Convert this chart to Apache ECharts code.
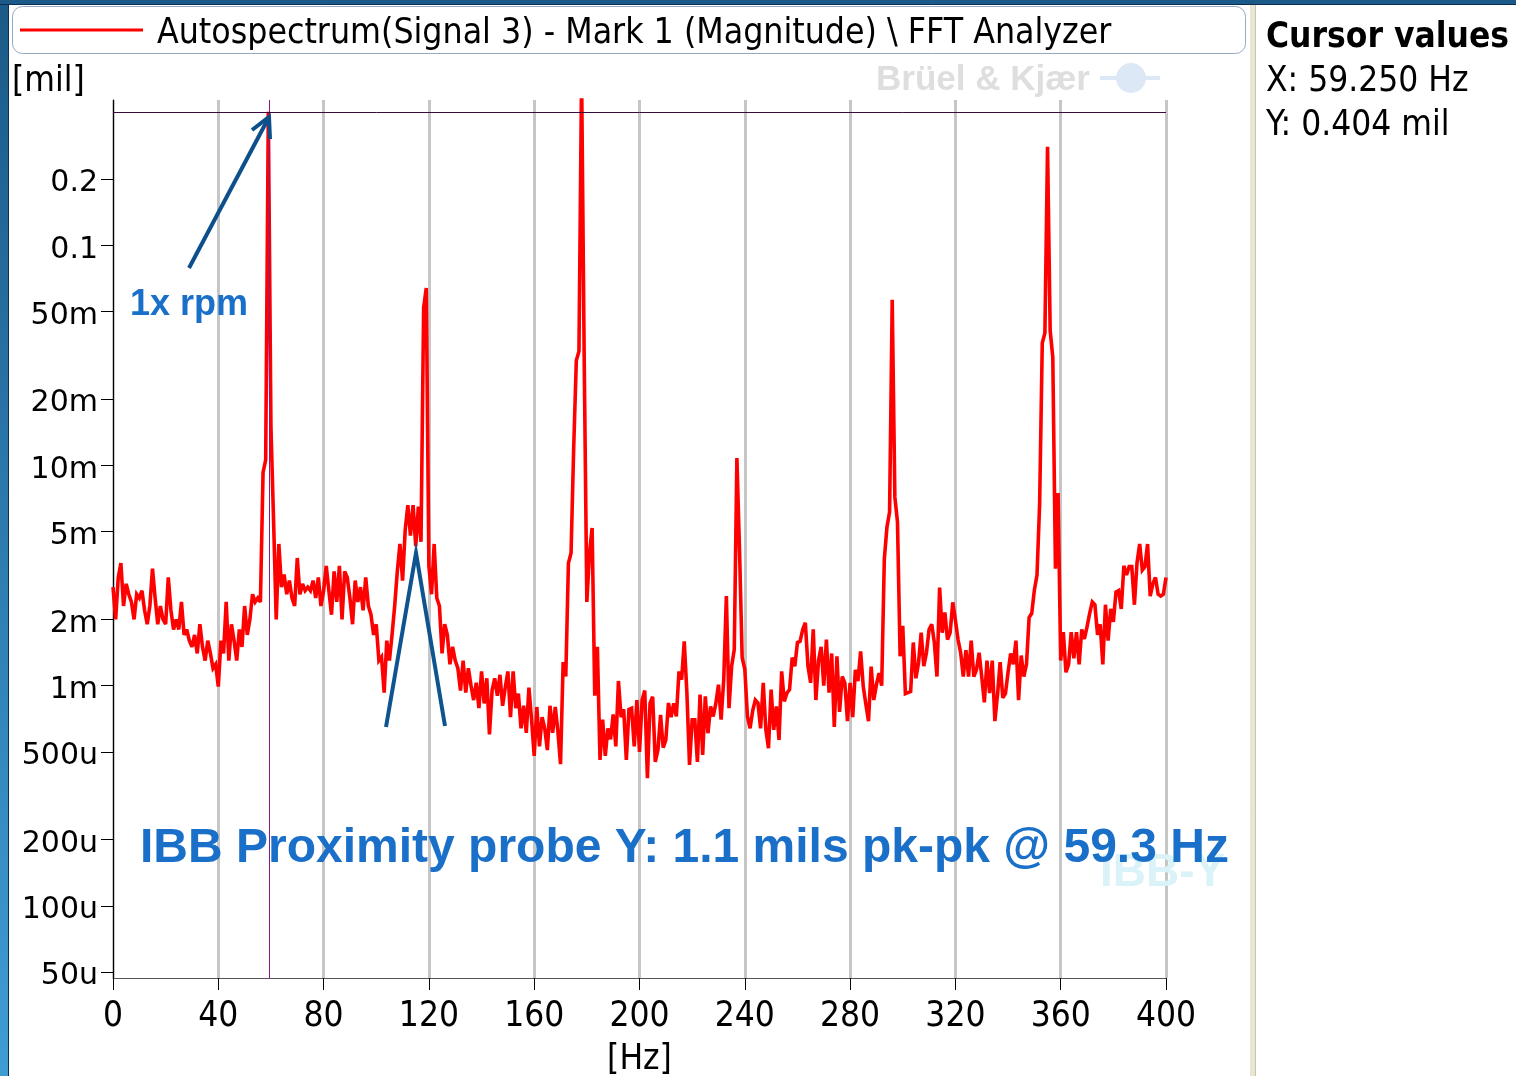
<!DOCTYPE html>
<html>
<head>
<meta charset="utf-8">
<script src="https://cdn.jsdelivr.net/npm/echarts@6.0.0/dist/echarts.min.js"></script>
<style>
html,body{margin:0;padding:0;background:#fff;}
#chart{width:1516px;height:1076px;}
</style>
</head>
<body>
<div id="chart"></div>
<script>
// Autospectrum magnitude, one value per 1 Hz line, in micro-mil (u)
const freqStepHz = 1;
const ampMicroMil = [
2800,2000,3100,3600,2300,2900,2600,2400,2000,2600,
2500,2700,2200,1900,2300,3400,2500,1900,2300,2000,
1900,3100,2200,1800,2000,1800,2400,1700,1800,1600,
1500,1700,1400,1900,1500,1300,1600,1400,1200,1250,
990,1600,1400,2400,1300,1900,1600,1300,1800,1500,
2300,1700,2000,2600,2400,2500,2400,9300,10600,404000,
15000,5600,2000,4400,2800,3200,2600,3000,2500,2300,
3800,2600,2900,2700,2800,2700,3000,2500,3100,2300,
2700,3500,2700,2100,3300,2400,3500,2000,3300,3100,
2500,1900,3000,2400,2800,2200,3100,2300,2100,1700,
1900,1300,1350,930,1600,1300,1700,2300,3300,4400,
3000,5100,6600,4800,6600,4300,6500,4500,52000,64000,
3500,2600,4400,2500,2300,1400,1900,1700,1250,1500,
1300,1200,950,1300,930,1200,1000,860,1030,790,
1160,830,1080,600,950,1080,900,1120,810,980,
1160,720,1160,790,920,640,810,610,980,700,
480,800,530,720,640,510,810,610,800,620,
440,1280,1100,3600,4000,12000,30000,33000,600000,30000,
2400,4000,5200,900,1500,460,700,480,640,570,
740,530,1050,720,780,460,780,790,530,860,
500,860,950,380,830,890,450,510,737,523,
567,834,720,830,724,1160,1065,1590,930,436,
700,700,450,910,484,894,608,804,724,830,
1010,700,1065,2550,790,1225,1460,10800,4100,1340,
1190,724,640,770,860,834,640,1030,630,520,
960,630,804,567,1160,848,926,960,1340,1225,
1570,1590,1800,1930,1225,1030,1800,860,1300,1500,
1000,1620,930,1400,650,1360,760,1100,1030,690,
1030,720,1180,1050,1430,990,820,690,1220,860,
1010,1140,1000,3760,5250,6150,56500,7200,5530,1360,
1870,920,930,940,1570,1080,1270,1740,1225,1410,
1800,1900,1570,1100,2790,1740,2150,1620,1740,2390,
1980,1620,1410,1100,1450,1100,1600,1100,1180,1410,
1100,840,1300,926,1300,690,910,1280,880,920,
1150,1400,1250,1600,860,1370,1100,1250,2040,2130,
2720,3180,6700,36000,40000,280000,41000,31000,3400,7500,
1300,1750,1150,1250,1750,1330,1750,1250,1800,1630,
1850,2130,2400,2330,1700,1900,1250,2330,1600,2230,
1950,2660,2700,2230,3500,3180,3470,3470,2330,3630,
4400,3350,3470,4400,2550,2900,3100,2600,2550,2600,
3100
];
const cursorX = 59.25;     // Hz
const cursorY = 0.404;     // mil
const xTickValues = [0,40,80,120,160,200,240,280,320,360,400];
const yTickValues = [0.2,0.1,0.05,0.02,0.01,0.005,0.002,0.001,0.0005,0.0002,0.0001,0.00005];
const yTickLabels = ['0.2','0.1','50m','20m','10m','5m','2m','1m','500u','200u','100u','50u'];

const seriesData = ampMicroMil.map((a, i) => [i * freqStepHz, a / 1e6]);

const tahoma = "Tahoma, 'DejaVu Sans Condensed', 'Liberation Sans Narrow', 'DejaVu Sans', sans-serif";
const verdana = "Verdana, 'DejaVu Sans', sans-serif";
const arial = "Arial, 'Liberation Sans', sans-serif";

const chart = echarts.init(document.getElementById('chart'), null, {renderer: 'canvas'});
chart.setOption({
  animation: false,
  backgroundColor: '#ffffff',
  grid: {left: 113, top: 100, width: 1053, height: 878, outerBoundsMode: 'none'},
  xAxis: {
    type: 'value', min: 0, max: 400, interval: 40,
    axisLine: {show: true, onZero: false, lineStyle: {color: '#555', width: 1}},
    axisTick: {show: true, length: 12, lineStyle: {color: '#000', width: 1}},
    axisLabel: {
      customValues: xTickValues,
      color: '#000', fontSize: 35, fontFamily: tahoma, margin: 21
    },
    splitLine: {show: true, lineStyle: {color: '#c6c6c6', width: 3}},
    name: '[Hz]', nameLocation: 'middle', nameGap: 64,
    nameTextStyle: {color: '#000', fontSize: 35, fontFamily: tahoma}
  },
  yAxis: {
    type: 'log', logBase: 10, min: 4.7e-5, max: 0.457,
    axisLine: {show: true, lineStyle: {color: '#000', width: 1}},
    axisTick: {show: true, customValues: yTickValues, length: 12, lineStyle: {color: '#000', width: 1}},
    axisLabel: {
      customValues: yTickValues,
      color: '#000', fontSize: 30, fontFamily: verdana, margin: 15,
      rich: {v: {fontSize: 30, fontFamily: verdana, color: '#000', padding: [9, 0, 0, 0]}},
      formatter: function (v) {
        let best = 0, bd = Infinity;
        yTickValues.forEach((t, i) => { const d = Math.abs(Math.log10(t) - Math.log10(v)); if (d < bd) { bd = d; best = i; } });
        return '{v|' + yTickLabels[best] + '}';
      }
    },
    splitLine: {show: false},
    minorTick: {show: false}
  },
  series: [{
    type: 'line',
    data: seriesData,
    showSymbol: false,
    symbol: 'none',
    clip: true,
    lineStyle: {color: '#ff0000', width: 3.6, join: 'miter', miterLimit: 3},
    z: 3,
    markLine: {
      silent: true, symbol: 'none', animation: false,
      label: {show: false},
      data: [
        {xAxis: cursorX, lineStyle: {color: '#8a1a8a', width: 1, type: 'solid'}},
        {yAxis: cursorY, lineStyle: {color: '#3a0a3a', width: 1, type: 'solid'}}
      ]
    }
  }],
  graphic: [
    // window frame
    {type: 'rect', shape: {x: 0, y: 0, width: 8, height: 1076}, style: {fill: new echarts.graphic.LinearGradient(0,0,0,1,[{offset:0,color:'#1b5a88'},{offset:1,color:'#3f9dd3'}])}, z: 50},
    {type: 'line', shape: {x1: 8.5, y1: 0, x2: 8.5, y2: 1076}, style: {stroke: '#0b2e52', lineWidth: 1}, z: 50},
    {type: 'rect', shape: {x: 0, y: 0, width: 1516, height: 4}, style: {fill: '#1b5a88'}, z: 50},
    {type: 'line', shape: {x1: 0, y1: 4.5, x2: 1516, y2: 4.5}, style: {stroke: '#0b2e52', lineWidth: 1}, z: 50},
    // right panel separator
    {type: 'rect', shape: {x: 1250, y: 5, width: 5, height: 1071}, style: {fill: '#e9e5d3'}, z: 50},
    {type: 'line', shape: {x1: 1255.5, y1: 5, x2: 1255.5, y2: 1076}, style: {stroke: '#c9c4ae', lineWidth: 1}, z: 50},
    // legend box
    {type: 'rect', shape: {x: 12.5, y: 6.5, width: 1233, height: 47, r: 10}, style: {fill: '#fff', stroke: '#93a9c4', lineWidth: 1}, z: 40},
    {type: 'line', shape: {x1: 20, y1: 30, x2: 143, y2: 30}, style: {stroke: '#ff0000', lineWidth: 3}, z: 41},
    {type: 'text', x: 157, y: 34, style: {text: 'Autospectrum(Signal 3) - Mark 1 (Magnitude) \\ FFT Analyzer', fill: '#000', font: '35.3px ' + tahoma, textVerticalAlign: 'middle'}, z: 41},
    // unit label
    {type: 'text', x: 12, y: 82, style: {text: '[mil]', fill: '#000', font: '35px ' + tahoma, textVerticalAlign: 'middle'}, z: 41},
    // watermark
    {type: 'text', x: 876, y: 80, style: {text: 'Brüel & Kjær', fill: '#dedede', font: 'bold 35px ' + arial, textVerticalAlign: 'middle'}, z: 1},
    {type: 'circle', shape: {cx: 1131, cy: 78, r: 15}, style: {fill: '#dce8f6'}, z: 1},
    {type: 'rect', shape: {x: 1100, y: 76, width: 60, height: 4}, style: {fill: '#dce8f6'}, z: 1},
    {type: 'text', x: 1100, y: 873, style: {text: 'IBB-Y', fill: '#d9f3f8', font: 'bold 46px ' + arial, textVerticalAlign: 'middle'}, z: 1},
    // cursor panel
    {type: 'text', x: 1266, y: 38, style: {text: 'Cursor values', fill: '#000', font: 'bold 35px ' + tahoma, textVerticalAlign: 'middle'}, z: 41},
    {type: 'text', x: 1266, y: 82, style: {text: 'X: 59.250 Hz', fill: '#000', font: '35px ' + tahoma, textVerticalAlign: 'middle'}, z: 41},
    {type: 'text', x: 1266, y: 126, style: {text: 'Y: 0.404 mil', fill: '#000', font: '35px ' + tahoma, textVerticalAlign: 'middle'}, z: 41},
    // annotations
    {type: 'line', shape: {x1: 189, y1: 268, x2: 268, y2: 119}, style: {stroke: '#0d4f8b', lineWidth: 4}, z: 60},
    {type: 'polyline', shape: {points: [[252, 130], [269, 117], [270, 139]]}, style: {stroke: '#0d4f8b', lineWidth: 4, fill: null}, z: 60},
    {type: 'text', x: 130, y: 305, style: {text: '1x rpm', fill: '#1a70c8', font: 'bold 36px ' + arial, textVerticalAlign: 'middle'}, z: 60},
    {type: 'polyline', shape: {points: [[386, 727], [416, 553], [445, 726]]}, style: {stroke: '#0f5490', lineWidth: 4, fill: null}, z: 60},
    {type: 'text', x: 140, y: 849, style: {text: 'IBB Proximity probe Y: 1.1 mils pk-pk @ 59.3 Hz', fill: '#1a70c8', font: 'bold 48px ' + arial, textVerticalAlign: 'middle'}, z: 60}
  ]
});
</script>
</body>
</html>
